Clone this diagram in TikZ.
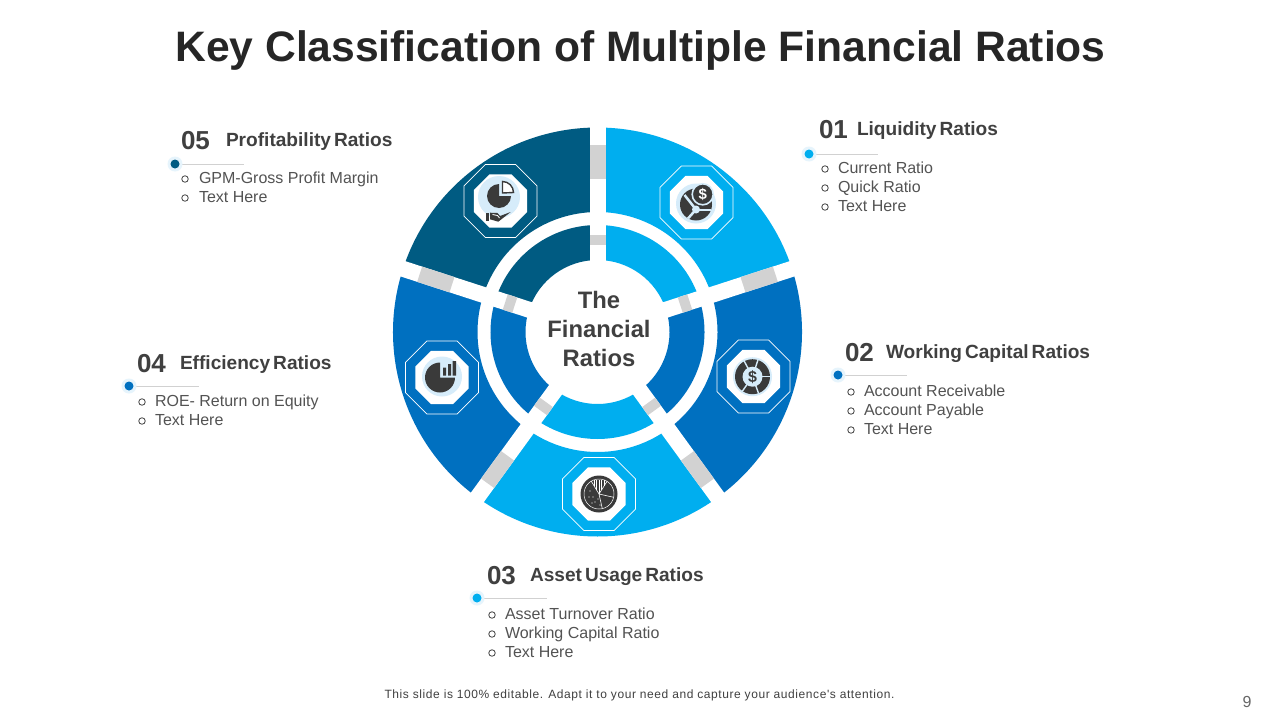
\documentclass[tikz,border=0pt]{standalone}
\usepackage{fontspec}
\setmainfont{Liberation Sans}
\newfontfamily\footfont[LetterSpace=4.8]{Liberation Sans}
\usetikzlibrary{shapes.geometric}
\definecolor{segdark}{HTML}{005B82}
\definecolor{segsky}{HTML}{00AEEF}
\definecolor{segblue}{HTML}{0070C0}
\definecolor{gapgray}{HTML}{D2D2D2}
\definecolor{inkdark}{HTML}{3A3A3A}
\definecolor{inktext}{HTML}{404040}
\definecolor{halo}{HTML}{D6ECFA}
\newcommand{\sector}[5]{\fill[#1] (#2:#4) arc[start angle=#2,end angle=#3,radius=#4] -- (#3:#5) arc[start angle=#3,end angle=#2,radius=#5] -- cycle;}
\tikzset{
  x=1pt,y=-1pt,
  every node/.style={inner sep=0pt,outer sep=0pt},
  titletext/.style={font=\fontsize{42.6}{44}\selectfont\bfseries,text=black!85,anchor=base},
  numtext/.style={font=\fontsize{26}{27}\selectfont\bfseries,text=inktext,anchor=base west},
  headtext/.style={font=\fontsize{19.1}{20}\selectfont\bfseries\spaceskip 3pt\relax,text=inktext,anchor=base west},
  itemtext/.style={font=\fontsize{16}{16}\selectfont,text=inktext!90,anchor=base west},
  bulletmark/.style={circle,draw=inktext,line width=.8pt,minimum size=6.5pt},
  dothalo/.style={circle,fill=halo!60,minimum size=15pt},
  rule/.style={draw=black!18,line width=.7pt},
  octline/.style={regular polygon,regular polygon sides=8,draw=white,line width=.7pt,minimum size=79pt},
  octfill/.style={regular polygon,regular polygon sides=8,fill=white,minimum size=57.5pt},
  wheelscope/.style={shift={(597.5,332)},y=1pt},
  iconscope/.style={shift={#1},y=1pt},
  slit/.style={draw=halo,line width=2pt},
}
\begin{document}
\begin{tikzpicture}
\useasboundingbox (0,0) rectangle (1280,720);
\fill[white] (0,0) rectangle (1280,720);
\node[titletext] (title) at (640.5,61) {Key Classification of Multiple Financial Ratios};

% wheel
\begin{scope}[wheelscope]
\sector{segsky}{18}{90}{204.5}{120}
\sector{segsky}{18}{90}{107}{72}
\sector{segblue}{-54}{18}{204.5}{120}
\sector{segblue}{-54}{18}{107}{72}
\sector{segsky}{-126}{-54}{204.5}{120}
\sector{segsky}{-126}{-54}{107}{72}
\sector{segblue}{162}{234}{204.5}{120}
\sector{segblue}{162}{234}{107}{72}
\sector{segdark}{90}{162}{204.5}{120}
\sector{segdark}{90}{162}{107}{72}
\foreach \a in {90,18,-54,-126,162}{
  \draw[white,line width=16pt] (0,0) -- (\a:212);
  \draw[gapgray,line width=16pt] (\a:153) -- (\a:187);
  \draw[gapgray,line width=16pt] (\a:87) -- (\a:97);
}
\end{scope}
\node[font=\fontsize{23.8}{29}\selectfont\bfseries,text=inktext,align=center] (centre) at (599,329) {The\\Financial\\Ratios};

% octagons
\foreach \n/\p in {o1/{(696.5,202.5)},o2/{(753.5,376.5)},o3/{(599,494)},o4/{(442,377.5)},o5/{(500.5,201)}}{
  \node[octline] (\n line) at \p {};
  \node[octfill] (\n fill) at \p {};
}

% icon 5
\begin{scope}[iconscope={(500.5,201)}]
\fill[halo] (-1.5,4) circle (21);
\fill[inkdark] (-1.5,5) -- (-1.5,17) arc[start angle=90,end angle=360,radius=12] -- cycle;
\draw[inkdark,fill=white,line width=1.4pt] (2,8) -- (2,19.5) arc[start angle=90,end angle=0,radius=11] -- cycle;
\fill[inkdark] (-14.5,-20) rectangle (-11.5,-11.5);
\fill[inkdark] (-10.5,-11.7) -- (-3,-12) -- (-0.5,-15) -- (10.2,-11) -- (-2.2,-20.7) -- (-10.5,-18.3) -- cycle;
\draw[white,line width=.8pt] (-8,-13.5) -- (-3,-14.5) -- (-1,-17);
\end{scope}

% icon 1
\begin{scope}[iconscope={(696.5,202.5)}]
\fill[halo] (-0.5,-1) circle (20);
\fill[inkdark] (-0.5,-2) circle (16);
\draw[slit,line width=2.5pt] (-12,7.5) -- (-0.5,-7) -- (-8.5,-16);
\fill[halo] (-0.5,-7) circle (4);
\draw[slit] (2,-7) -- (14,-7);
\fill[inkdark,draw=halo,line width=1.6pt] (6.2,8.2) circle (10.5);
\node[font=\fontsize{15}{15}\selectfont\bfseries,text=white] (d1) at (6.2,8.2) {\$};
\end{scope}

% icon 2
\begin{scope}[iconscope={(753.5,376.5)}]
\fill[halo] (-1,-0.2) circle (19.5);
\fill[inkdark] (-1,-0.2) circle (17.5);
\fill[halo] (-1,-0.2) circle (10);
\foreach \a in {0,72,118,-70,-125}{\draw[slit,line width=1.4pt] (-1,-0.2) ++(\a:9) -- ++(\a:9);}
\node[font=\fontsize{16}{16}\selectfont\bfseries,text=inkdark] (d2) at (-1,-0.2) {\$};
\end{scope}

% icon 3
\begin{scope}[iconscope={(599,494)}]
\fill[inkdark] (0,0) circle (18.5);
\draw[white,line width=.5pt] (0,0) circle (15);
\draw[white,line width=.6pt] (0,0) -- (14.6,-3.3) (0,0) -- (8,12.6) (0,0) -- (-7.7,12.8) (0,0) -- (3.3,-14.6);
\foreach \x/\b in {-5/8.5,-2.5/4.5,0/1,2.5/4,5/8}{\draw[white,line width=.5pt] (\x,\b) -- (\x,14);}
\foreach \p in {(-9,3),(-6,-3),(-10,-3),(-4,-8),(-1,-5),(-7,-9),(1,-11)}{\fill[white] \p circle (.7);}
\end{scope}

% icon 4
\begin{scope}[iconscope={(442,377.5)}]
\fill[halo] (0,1) circle (20);
\fill[inkdark] (-2,0) -- (-2,15) arc[start angle=90,end angle=360,radius=15] -- cycle;
\fill[inkdark] (1,1.8) rectangle (4,9.8) (6,1.8) rectangle (9,13.5) (10.5,1.8) rectangle (14,16.5);
\end{scope}

% block 01
\node[numtext] (n1) at (819,138.5) {01};
\node[headtext] (h1) at (857,135) {Liquidity Ratios};
\draw[rule] (809,154) -- (878,154);
\node[dothalo] (d01) at (809,154) {}; \fill[segsky] (d01) circle (4.5);
\foreach \y/\t in {167/Current Ratio,186/Quick Ratio,205/Text Here}{
  \node[bulletmark] (b1\y) at (825,\y+2) {};
  \node[itemtext] (t1\y) at (838,\y+6) {\t};
}
% block 02
\node[numtext] (n2) at (845,361.5) {02};
\node[headtext] (h2) at (886,358) {Working Capital Ratios};
\draw[rule] (838,375) -- (907,375);
\node[dothalo] (d02) at (838,375) {}; \fill[segblue] (d02) circle (4.5);
\foreach \y/\t in {390/Account Receivable,409/Account Payable,428/Text Here}{
  \node[bulletmark] (b2\y) at (851,\y+2) {};
  \node[itemtext] (t2\y) at (864,\y+6) {\t};
}
% block 03
\node[numtext] (n3) at (487,584.5) {03};
\node[headtext] (h3) at (530,581) {Asset Usage Ratios};
\draw[rule] (477,598) -- (547,598);
\node[dothalo] (d03) at (477,598) {}; \fill[segsky] (d03) circle (4.5);
\foreach \y/\t in {613/Asset Turnover Ratio,632/Working Capital Ratio,651/Text Here}{
  \node[bulletmark] (b3\y) at (492,\y+2) {};
  \node[itemtext] (t3\y) at (505,\y+6) {\t};
}
% block 04
\node[numtext] (n4) at (137,372.5) {04};
\node[headtext] (h4) at (180,369) {Efficiency Ratios};
\draw[rule] (129,386) -- (199,386);
\node[dothalo] (d04) at (129,386) {}; \fill[segblue] (d04) circle (4.5);
\foreach \y/\t in {400/ROE- Return on Equity,419/Text Here}{
  \node[bulletmark] (b4\y) at (142,\y+2) {};
  \node[itemtext] (t4\y) at (155,\y+6) {\t};
}
% block 05
\node[numtext] (n5) at (181,149.5) {05};
\node[headtext] (h5) at (226,146) {Profitability Ratios};
\draw[rule] (175,164) -- (244,164);
\node[dothalo] (d05) at (175,164) {}; \fill[segdark] (d05) circle (4.5);
\foreach \y/\t in {177/GPM-Gross Profit Margin,196/Text Here}{
  \node[bulletmark] (b5\y) at (185,\y+2) {};
  \node[itemtext] (t5\y) at (199,\y+6) {\t};
}
% footer
\node[font=\footfont\fontsize{12}{12}\selectfont,text=inktext,anchor=base] (foot) at (639.5,698) {This slide is 100\% editable. Adapt it to your need and capture your audience's attention.};
\node[font=\fontsize{16}{16}\selectfont,text=black!60,anchor=base] (page) at (1247,707) {9};
\end{tikzpicture}
\end{document}
